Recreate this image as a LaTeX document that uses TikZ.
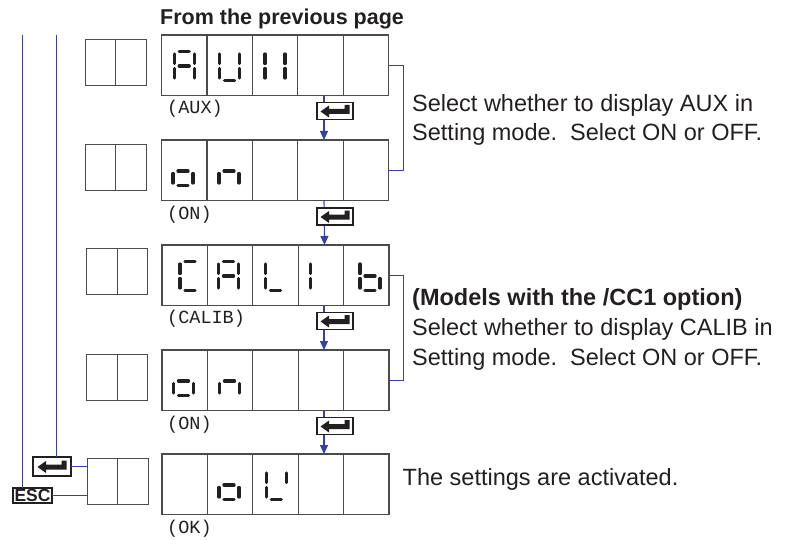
\documentclass[tikz,border=0pt]{standalone}
\usepackage{fontspec}
\setmainfont{Liberation Sans}
\setmonofont{Liberation Mono}
\usetikzlibrary{arrows.meta}
\definecolor{flowblue}{RGB}{55,65,165}
\definecolor{ink}{RGB}{35,31,32}
\definecolor{dispgray}{RGB}{75,75,75}
\tikzset{
  disp/.style={draw=dispgray, line width=1.2pt, minimum width=227pt, minimum height=60.5pt, inner sep=0pt, outer sep=0pt},
  divider/.style={draw=dispgray, line width=1.2pt},
  smallbox/.style={draw=dispgray, line width=0.9pt, minimum width=61pt, minimum height=46pt, inner sep=0pt, outer sep=0pt},
  keybox/.style={draw=ink, fill=white, line width=1.2pt, minimum width=36pt, minimum height=17pt, inner sep=0pt, outer sep=0pt},
  esckey/.style={draw=ink, line width=1.2pt, minimum width=39pt, minimum height=15pt, inner sep=0pt, outer sep=0pt, font=\bfseries\fontsize{17.5}{17.5}\selectfont, text=ink},
  seg/.style={line width=3.3pt, line cap=round, draw=ink},
  flow/.style={draw=flowblue, line width=1.1pt, -{Triangle[width=8pt,length=9pt]}},
  link/.style={draw=flowblue, line width=1pt},
  brace/.style={draw=flowblue, line width=0.8pt},
  body/.style={font=\fontsize{23.5}{29}\selectfont, text=ink, anchor=base west, inner sep=0pt},
  bodybold/.style={font=\bfseries\fontsize{23.5}{29}\selectfont, text=ink, anchor=base west, inner sep=0pt},
  titletext/.style={font=\bfseries\fontsize{21.5}{26}\selectfont, text=ink, anchor=base west, inner sep=0pt},
  code/.style={font=\ttfamily\fontsize{18.5}{20}\selectfont, text=ink, anchor=base west, inner sep=0pt},
  segs/a/.style={insert path={(-5,-14.5) -- (5,-14.5)}},
  segs/g/.style={insert path={(-5,0) -- (5,0)}},
  segs/d/.style={insert path={(-5,14.5) -- (5,14.5)}},
  segs/f/.style={insert path={(-10,-12) -- (-10,-2.5)}},
  segs/b/.style={insert path={(10,-12) -- (10,-2.5)}},
  segs/e/.style={insert path={(-10,2.5) -- (-10,12)}},
  segs/c/.style={insert path={(10,2.5) -- (10,12)}},
  entersym/.pic={\fill[ink] (-14.5,0.5) -- (-6,-5.5) -- (-6,-2) -- (9.5,-2) -- (9.5,-6) -- (14.5,-6) -- (14.5,3) -- (-6,3) -- (-6,6.5) -- cycle;}
}
\newcommand\segdigit[3]{%
  \begin{scope}[shift={(#1,#2)}]
    \foreach \s in {#3} {\edef\segtmp{\noexpand\draw[seg, segs/\s];}\segtmp}
  \end{scope}}
\begin{document}
\begin{tikzpicture}[x=1pt,y=-1pt]
\useasboundingbox (0,0) rectangle (789,540);

% title
\node[titletext] (title) at (160,25) {From the previous page};

% displays
\node[disp] (d1) at (275,65.25) {};
\node[disp] (d2) at (275,170.25) {};
\node[disp] (d3) at (275.5,275.25) {};
\node[disp] (d4) at (275.5,380.25) {};
\node[disp] (d5) at (275.5,484.25) {};
\foreach \r in {1,...,5} {
  \foreach \k in {1,2,3,4} {
    \draw[divider] ([xshift=45.4*\k pt]d\r.north west) -- ([xshift=45.4*\k pt]d\r.south west);
  }
}

% small two-cell boxes
\node[smallbox] (s1) at (115.5,62) {};
\node[smallbox] (s2) at (115.5,167) {};
\node[smallbox] (s3) at (117,271) {};
\node[smallbox] (s4) at (117,377) {};
\node[smallbox] (s5) at (117.5,481) {};
\foreach \r in {1,...,5} {\draw[line width=0.9pt, draw=dispgray] (s\r.north) -- (s\r.south);}

% digits
\segdigit{184.2}{66}{a,b,c,e,f,g}
\segdigit{229.6}{66}{b,c,d,e,f}
\segdigit{275}{66}{b,c,e,f}
\segdigit{183}{171}{c,d,e,g}
\segdigit{229}{171}{c,e,g}
\segdigit{190}{276}{a,d,e,f}
\segdigit{228.5}{276}{a,b,c,e,f,g}
\segdigit{275.5}{276}{d,e,f}
\segdigit{320.5}{276}{e,f}
\segdigit{370}{276}{c,d,e,f,g}
\segdigit{183.5}{381}{c,d,e,g}
\segdigit{229.5}{381}{c,e,g}
\segdigit{229}{485}{c,d,e,g}
\segdigit{276.3}{485}{b,d,e,f}

% labels under displays
\node[code] (l1) at (167,113.5) {(AUX)};
\node[code] (l2) at (167,219) {(ON)};
\node[code] (l3) at (167,323.5) {(CALIB)};
\node[code] (l4) at (167,429) {(ON)};
\node[code] (l5) at (167,533) {(OK)};

% flow arrows with enter keys
\draw[flow] ([xshift=49pt]d1.south) -- ([xshift=49pt]d2.north);
\draw[flow] ([xshift=49pt]d2.south) -- ([xshift=49pt]d3.north);
\draw[flow] ([xshift=48.5pt]d3.south) -- ([xshift=48.5pt]d4.north);
\draw[flow] ([xshift=48.5pt]d4.south) -- ([xshift=48.5pt]d5.north);
\node[keybox] (k1) at (335,111) {};
\node[keybox] (k2) at (335,216.5) {};
\node[keybox] (k3) at (335,321) {};
\node[keybox] (k4) at (335,426) {};
\foreach \r in {1,...,4} {\pic at (k\r.center) {entersym};}

% brackets
\draw[brace] (d1.east) -- ++(14.5,0) |- (d2.east);
\draw[brace] (d3.east) -- ++(14,0) |- (d4.east);

% left side keys and lines
\coordinate (top1) at (22,35);
\coordinate (top2) at (56.5,35);
\node[keybox, minimum width=38pt, minimum height=19pt] (kl) at (52,466.5) {};
\pic at (kl.center) {entersym};
\node[esckey] (esc) at (32.5,495.5) {ESC};
\draw[link] (top1) -- (top1 |- esc.north);
\draw[link] (top2) -- (top2 |- kl.north);
\draw[link] (kl.east) -- (kl.east -| s5.west);
\draw[link] (esc.east) -- (esc.east -| s5.west);

% explanatory texts
\node[body] (t1a) at (412,112) {Select whether to display AUX in};
\node[body] (t1b) at (412,141) {Setting mode.\ \ Select ON or OFF.};
\node[bodybold] (t2a) at (412,305.5) {(Models with the /CC1 option)};
\node[body] (t2b) at (412,335) {Select whether to display CALIB in};
\node[body] (t2c) at (412,365) {Setting mode.\ \ Select ON or OFF.};
\node[body] (t3) at (402.5,485) {The settings are activated.};
\end{tikzpicture}
\end{document}
